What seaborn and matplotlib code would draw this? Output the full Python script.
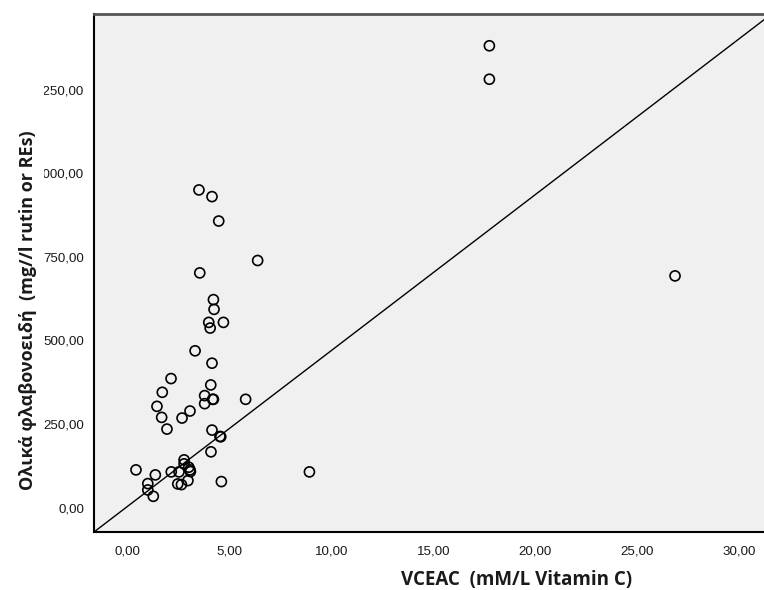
import matplotlib
matplotlib.use("Agg")
import matplotlib.pyplot as plt
from matplotlib.transforms import Bbox, TransformedBbox
import seaborn as sns
import pandas as pd

# ---- data ----
vceac = [17.74, 17.74, 26.85, 8.91, 3.49, 4.13, 4.46, 6.37, 3.53, 4.20,
         4.23, 3.97, 4.69, 4.04, 3.30, 4.13, 2.12, 4.07, 1.69, 3.77,
         4.16, 4.20, 5.78, 1.43, 3.77, 3.05, 1.66, 2.66, 1.92, 4.13,
         4.52, 4.56, 4.08, 2.76, 2.76, 2.99, 3.05, 3.07, 0.40, 2.13,
         2.51, 1.35, 2.95, 4.59, 2.45, 2.63, 0.98, 0.98, 1.25]
flavonoids = [1381, 1281, 693, 107, 950, 930, 857, 739, 702, 622,
              593, 554, 554, 537, 469, 432, 386, 367, 345, 335,
              324, 324, 324, 303, 311, 289, 270, 268, 235, 232,
              213, 212, 167, 143, 131, 121, 113, 108, 113, 107,
              107, 98, 81, 78, 71, 69, 72, 53, 34]

ref_line_x = [-1.66, 31.5]
ref_line_y = [-72.7, 1472]

x_ticks = [0, 5, 10, 15, 20, 25, 30]
x_tick_labels = ["0,00", "5,00", "10,00", "15,00", "20,00", "25,00", "30,00"]
y_ticks = [0, 250, 500, 750, 1000, 1250]
y_tick_labels = ["0,00", "250,00", "500,00", "750,00", "1000,00", "1250,00"]

x_label_main = "VCEAC  (mM/L Vitamin C)"
y_label_main = "Ολικά φλαβονοειδή  (mg//l rutin or REs)"

df = pd.DataFrame({"VCEAC": vceac, "TF": flavonoids})

sns.set_theme(style="white")
plt.rcParams["font.family"] = ["Liberation Sans", "DejaVu Sans"]

W, H = 764, 590
fig = plt.figure(figsize=(W / 100, H / 100), dpi=100)
fig.patch.set_facecolor("white")

# axes: left 94px, bottom 532px, top 14px, right edge beyond the figure
ax = fig.add_axes([94 / W, (H - 532) / H, 675.8 / W, (532 - 14) / H])
ax.set_facecolor("#f0f0f0")

ax.plot(ref_line_x, ref_line_y, color="black", lw=1.0, zorder=2)

sns.scatterplot(data=df, x="VCEAC", y="TF", ax=ax, marker="o",
                facecolor="none", edgecolor="black", linewidth=1.2,
                s=52, zorder=3, legend=False)

ax.set_xlim(-1.66, 31.5)
ax.set_ylim(-72.7, 1476)

ax.set_xticks(x_ticks)
ax.set_xticklabels(x_tick_labels)
ax.set_yticks(y_ticks)
ax.set_yticklabels(y_tick_labels)
ax.tick_params(axis="both", direction="out", colors="black", labelcolor="#1a1a1a",
               labelsize=9.6, width=1.2)
ax.tick_params(axis="x", length=5, pad=5.0)
ax.tick_params(axis="y", length=6.5, pad=0.5)
ax.set_xlabel("")
ax.set_ylabel("")

# y tick labels are cut off on the left, as in the reference
clip = TransformedBbox(Bbox([[43.5 / W, 0], [1.0, 1.0]]), fig.transFigure)
for lab in ax.get_yticklabels():
    lab.set_clip_box(clip)
    lab.set_clip_on(True)

for side in ["left", "bottom"]:
    ax.spines[side].set_color("black")
    ax.spines[side].set_linewidth(1.5)
ax.spines["top"].set_color("#555555")
ax.spines["top"].set_linewidth(2.0)
ax.spines["right"].set_color("black")
ax.spines["right"].set_linewidth(1.5)

fig.text(517 / W, 1 - 580 / H, x_label_main, ha="center", va="center",
         fontsize=13.5, fontweight="bold", color="#1a1a1a",
         family=["Open Sans", "DejaVu Sans"])
fig.text(28 / W, 1 - 310 / H, y_label_main, ha="center", va="center",
         rotation=90, fontsize=13, fontweight="bold", color="#1a1a1a",
         family=["Open Sans", "DejaVu Sans"])

fig.savefig("out.png", dpi=100)
